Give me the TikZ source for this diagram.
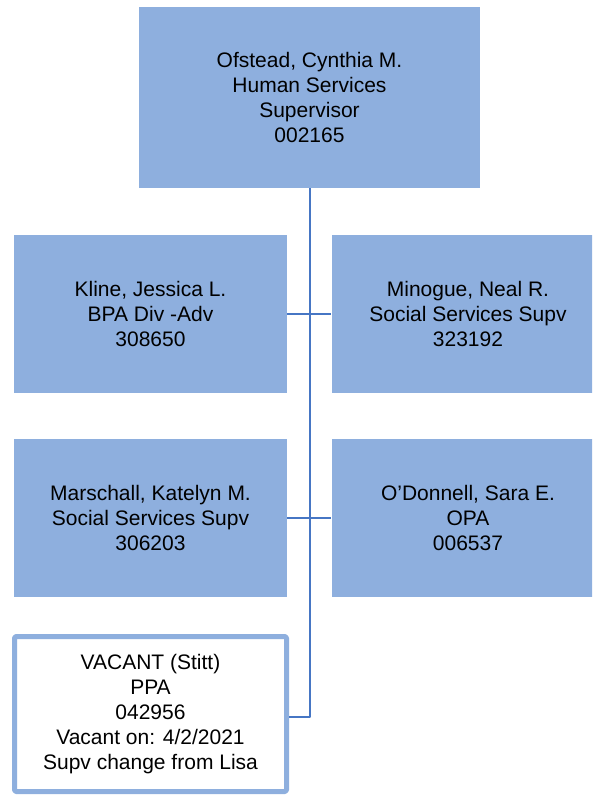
\documentclass[tikz,border=0pt]{standalone}
\usepackage{fontspec}
\setmainfont{Liberation Sans}
\definecolor{boxfill}{RGB}{142,175,222}
\definecolor{linkblue}{RGB}{70,118,196}
\begin{document}
\begin{tikzpicture}[x=1pt, y=-1pt, line join=round, font=\fontsize{21}{25}\selectfont]
	\def\bw{273}\def\bh{158}\def\lx{150.5}\def\rx{468}
	\tikzset{post/.style={fill=boxfill,draw=none,rectangle,inner sep=0pt,align=center,minimum width=\bw,minimum height=\bh},
		vac/.style={fill=white,draw=boxfill,line width=5pt,rectangle,rounded corners=1.5pt,inner sep=0pt,align=center,minimum width=272,minimum height=155},
		link/.style={draw=linkblue,line width=2pt}}
	\clip(0,0)rectangle(592,795);
	
	\path(309.5,97.5)node[post,minimum width=341,minimum height=181](ofstead){Ofstead, Cynthia M.\\Human Services\\Supervisor\\002165};
	\path(\lx,314)node[post](kline){Kline, Jessica L.\\BPA Div -Adv\\308650};
	\path(\rx,314)node[post](minogue){Minogue, Neal R.\\Social Services Supv\\323192};
	\path(\lx,518)node[post](marschall){Marschall, Katelyn M.\\Social Services Supv\\306203};
	\path(\rx,518)node[post](odonnell){O’Donnell, Sara E.\\OPA\\006537};
	\path(\lx,714)node[vac](vacant){VACANT (Stitt)\\PPA\\042956\\Vacant on: 4/2/2021\\Supv change from Lisa};
	\coordinate(vacin)at(vacant.east|-0,717);
	
	\draw[link](ofstead.south)|-(vacin);
	\foreach \x/\y in {kline/minogue,marschall/odonnell}{
		\draw[link](\x.east)--(\y.west);	}
\end{tikzpicture}
\end{document}
